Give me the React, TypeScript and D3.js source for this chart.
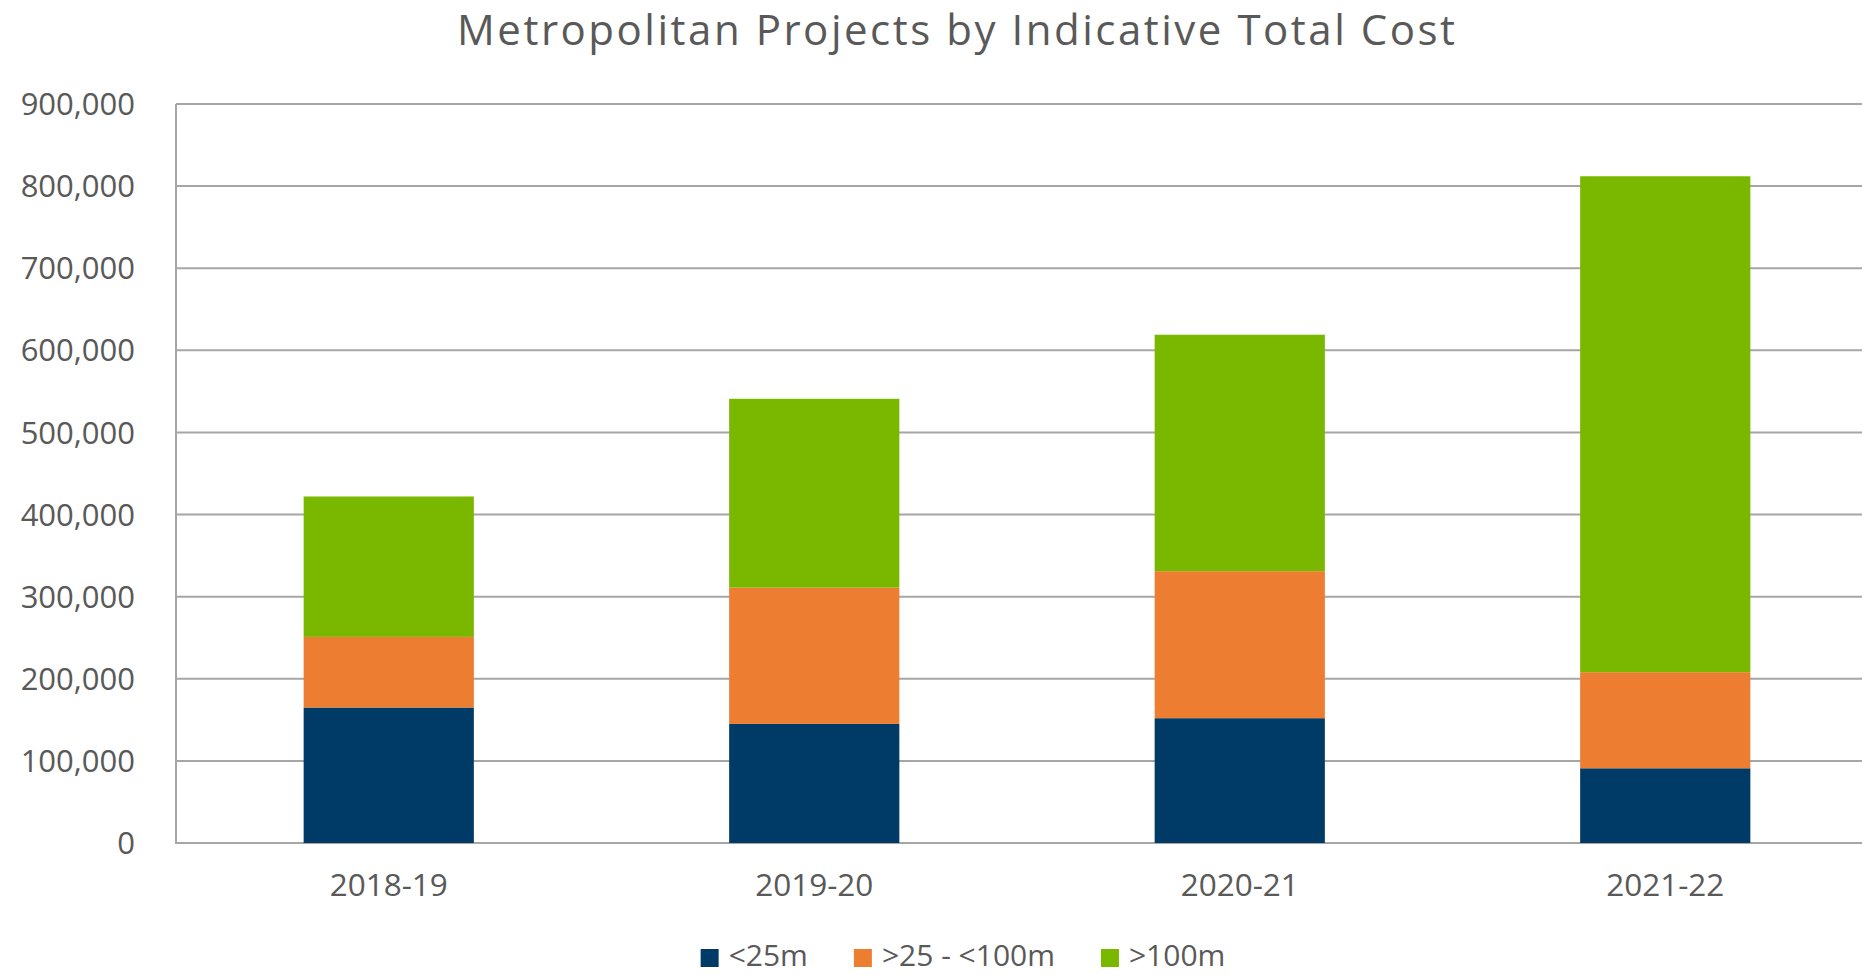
import { useEffect, useRef } from 'react'
import * as d3 from 'd3'

const years = ['2018-19', '2019-20', '2020-21', '2021-22']
const seriesNames = ['<25m', '>25 - <100m', '>100m']
const under25 = [165000, 145000, 152000, 91000]
const from25to100 = [86000, 166000, 179000, 117000]
const over100 = [171000, 230000, 288000, 604000]
const yTicks = [0, 100000, 200000, 300000, 400000, 500000, 600000, 700000, 800000, 900000]

const colors = ['#003B67', '#ED7D31', '#7AB800']
const grid = '#A6A6A6'
const textColor = '#595959'
const font = '"Open Sans", "Noto Sans", sans-serif'

export default function App() {
  const ref = useRef<SVGSVGElement>(null)

  useEffect(() => {
    if (!ref.current) return
    document.body.style.margin = '0'

    const W = 1862
    const H = 975
    const margin = { top: 104, left: 176, bottom: 132 }
    const plotRight = 1878 // plot runs slightly past the right edge, as in the source

    d3.select(ref.current).selectAll('*').remove()
    const svg = d3.select(ref.current)
      .attr('width', W)
      .attr('height', H)
      .style('font-family', font)

    const rows = years.map((year, i) => ({
      year,
      '<25m': under25[i],
      '>25 - <100m': from25to100[i],
      '>100m': over100[i],
    }))
    const stacked = d3.stack<any>().keys(seriesNames)(rows)

    const x = d3.scaleBand()
      .domain(years)
      .range([margin.left, plotRight])
      .paddingInner(0.6)
      .paddingOuter(0.3)

    const y = d3.scaleLinear()
      .domain([0, 900000])
      .range([H - margin.bottom, margin.top])

    // Title
    svg.append('text')
      .attr('x', 956)
      .attr('y', 45)
      .attr('text-anchor', 'middle')
      .attr('font-size', 42)
      .attr('textLength', 998)
      .attr('lengthAdjust', 'spacing')
      .attr('fill', textColor)
      .text('Metropolitan Projects by Indicative Total Cost')

    // Grid lines
    svg.append('g')
      .selectAll('line')
      .data(yTicks)
      .join('line')
      .attr('x1', margin.left)
      .attr('x2', plotRight)
      .attr('y1', (d) => y(d))
      .attr('y2', (d) => y(d))
      .attr('stroke', grid)
      .attr('stroke-width', 2)

    // Vertical axis line
    svg.append('line')
      .attr('x1', margin.left)
      .attr('x2', margin.left)
      .attr('y1', y(900000))
      .attr('y2', y(0) + 1)
      .attr('stroke', grid)
      .attr('stroke-width', 2)

    // Y labels
    svg.append('g')
      .selectAll('text')
      .data(yTicks)
      .join('text')
      .attr('x', 135)
      .attr('y', (d) => y(d))
      .attr('dy', '0.36em')
      .attr('text-anchor', 'end')
      .attr('font-size', 31)
      .attr('fill', textColor)
      .text((d) => d3.format(',')(d))

    // Stacked bars
    svg.append('g')
      .selectAll('g')
      .data(stacked)
      .join('g')
      .attr('fill', (_, i) => colors[i])
      .selectAll('rect')
      .data((s) => s)
      .join('rect')
      .attr('x', (d) => x(d.data.year)!)
      .attr('width', x.bandwidth())
      .attr('y', (d) => y(d[1]))
      .attr('height', (d) => y(d[0]) - y(d[1]))

    // X labels
    svg.append('g')
      .selectAll('text')
      .data(years)
      .join('text')
      .attr('x', (d) => x(d)! + x.bandwidth() / 2)
      .attr('y', 896)
      .attr('text-anchor', 'middle')
      .attr('font-size', 31.5)
      .attr('fill', textColor)
      .text((d) => d)

    // Legend
    const legend = svg.append('g')
    let cursor = 0
    seriesNames.forEach((name, i) => {
      const item = legend.append('g').attr('transform', `translate(${cursor},0)`)
      item.append('rect')
        .attr('x', 0)
        .attr('y', 949)
        .attr('width', 18)
        .attr('height', 18)
        .attr('fill', colors[i])
      const t = item.append('text')
        .attr('x', 28)
        .attr('y', 966)
        .attr('font-size', 30)
        .attr('fill', textColor)
        .text(name)
      const w = (t.node() as SVGTextElement).getComputedTextLength()
      cursor += 28 + w + 46
    })
    const total = cursor - 46
    legend.attr('transform', `translate(${963 - total / 2},0)`)
  }, [])

  return <svg ref={ref} style={{ display: 'block' }} />
}
